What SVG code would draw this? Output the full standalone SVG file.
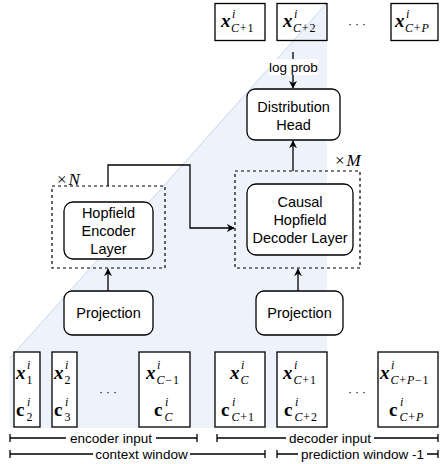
<svg xmlns="http://www.w3.org/2000/svg" width="440" height="464" viewBox="0 0 440 464">
<defs>
<marker id="ah" viewBox="0 0 10 10" refX="9" refY="5" markerWidth="8" markerHeight="8" markerUnits="userSpaceOnUse" orient="auto">
<path d="M0,0 L10,5 L0,10 L3,5 Z" fill="#000"/>
</marker>
</defs>
<style>
.bx{fill:#fff;stroke:#000;stroke-width:1.3}
.tb{fill:none;stroke:#000;stroke-width:1.3}
.dsh{fill:none;stroke:#000;stroke-width:1.2;stroke-dasharray:3 3}
.ln{fill:none;stroke:#000;stroke-width:1.3}
.t{font-family:"Liberation Sans",Arial,sans-serif;font-size:14.5px;fill:#000;text-anchor:middle}
.lb{font-family:"Liberation Sans",Arial,sans-serif;font-size:13.5px;fill:#000;text-anchor:middle}
.m{font-family:"Liberation Serif","Times New Roman",serif;font-size:19px;font-style:italic;font-weight:bold;fill:#000}
.mc{font-family:"Liberation Serif","Times New Roman",serif;font-size:19px;font-weight:bold;fill:#000}
.s{font-family:"Liberation Serif","Times New Roman",serif;font-size:12px;fill:#000;letter-spacing:0.8px}
.i{font-style:italic}
.mx{font-family:"Liberation Serif","Times New Roman",serif;font-size:17px;fill:#000}
.dots{font-family:"DejaVu Sans",sans-serif;font-size:11px;fill:#000;text-anchor:middle}
</style>
<polygon points="10,358 327,3 327,428 10,428" fill="#eef3fb"/>
<line x1="10" y1="358" x2="327" y2="3" stroke="#c6d6ee" stroke-width="1"/>

<g id="out1"><rect class="tb" x="215" y="3.5" width="50" height="37"/>
<text class="m" x="221" y="27">x</text><text class="s i" x="232" y="18">i</text><text class="s" x="231" y="32"><tspan class="i">C</tspan>+1</text></g>
<g id="out2"><rect class="tb" x="277" y="3.5" width="50" height="37"/>
<text class="m" x="283" y="27">x</text><text class="s i" x="294" y="18">i</text><text class="s" x="293" y="32"><tspan class="i">C</tspan>+2</text></g>
<text class="dots" x="357" y="28">· · ·</text>
<g id="outP"><rect class="tb" x="391" y="3.5" width="47" height="37"/>
<text class="m" x="395" y="27">x</text><text class="s i" x="406" y="18">i</text><text class="s" x="405" y="32"><tspan class="i">C</tspan>+<tspan class="i">P</tspan></text></g>

<g id="connectors">
<line class="ln" x1="293" y1="52" x2="293" y2="88" marker-end="url(#ah)"/>
<line class="ln" x1="293" y1="171" x2="293" y2="141" marker-end="url(#ah)"/>
<polyline class="ln" points="108,186 108,165 190,165 190,228 234,228" marker-end="url(#ah)"/>
<line class="ln" x1="108" y1="291" x2="108" y2="269" marker-end="url(#ah)"/>
<line class="ln" x1="298" y1="291" x2="298" y2="269" marker-end="url(#ah)"/>
</g>
<g id="logprob"><rect x="269" y="59" width="49" height="16" fill="#fff"/>
<text class="lb" x="293.5" y="72">log prob</text></g>

<g id="dist"><rect class="bx" x="247" y="89" width="93" height="51" rx="8"/>
<text class="t" x="293.5" y="112">Distribution</text><text class="t" x="293.5" y="130">Head</text></g>

<g id="decoder"><rect class="dsh" x="235" y="171" width="125" height="97"/>
<text class="mx" x="335" y="166">×<tspan class="i" dx="2">M</tspan></text>
<rect class="bx" x="247" y="184" width="106" height="71" rx="9"/>
<text class="t" x="300" y="207">Causal</text><text class="t" x="300" y="225">Hopfield</text><text class="t" x="300" y="243">Decoder Layer</text></g>

<g id="encoder"><rect class="dsh" x="52" y="186" width="113" height="82"/>
<text class="mx" x="57" y="185">×<tspan class="i" dx="2">N</tspan></text>
<rect class="bx" x="64" y="202" width="89" height="57" rx="9"/>
<text class="t" x="108.5" y="218">Hopfield</text><text class="t" x="108.5" y="236">Encoder</text><text class="t" x="108.5" y="254">Layer</text></g>

<g id="projE"><rect class="bx" x="64" y="291" width="89" height="44" rx="8"/>
<text class="t" x="108.5" y="318">Projection</text></g>
<g id="projD"><rect class="bx" x="256" y="291" width="87" height="44" rx="8"/>
<text class="t" x="299.5" y="318">Projection</text></g>

<g id="in1"><rect class="bx" x="14" y="352" width="26" height="75"/>
<text class="m" x="16" y="379">x</text><text class="s i" x="27" y="369">i</text><text class="s" x="26.5" y="384">1</text>
<text class="mc" x="16" y="416">c</text><text class="s i" x="27" y="406">i</text><text class="s" x="26.5" y="421">2</text></g>
<g id="in2"><rect class="bx" x="52" y="352" width="25" height="75"/>
<text class="m" x="54" y="379">x</text><text class="s i" x="65" y="369">i</text><text class="s" x="64.5" y="384">2</text>
<text class="mc" x="54" y="416">c</text><text class="s i" x="65" y="406">i</text><text class="s" x="64.5" y="421">3</text></g>
<text class="dots" x="108" y="396">· · ·</text>
<g id="inC1"><rect class="bx" x="139" y="352" width="51" height="75"/>
<text class="m" x="146" y="379">x</text><text class="s i" x="157" y="369">i</text><text class="s" x="156.5" y="384"><tspan class="i">C</tspan>−1</text>
<text class="mc" x="154" y="416">c</text><text class="s i" x="165" y="406">i</text><text class="s i" x="164.5" y="421">C</text></g>

<g id="dC"><rect class="bx" x="215" y="352" width="50" height="75"/>
<text class="m" x="230" y="379">x</text><text class="s i" x="241" y="369">i</text><text class="s i" x="240.5" y="384">C</text>
<text class="mc" x="221" y="416">c</text><text class="s i" x="232" y="406">i</text><text class="s" x="231.5" y="421"><tspan class="i">C</tspan>+1</text></g>
<g id="dC1"><rect class="bx" x="277" y="352" width="50" height="75"/>
<text class="m" x="283" y="379">x</text><text class="s i" x="294" y="369">i</text><text class="s" x="293.5" y="384"><tspan class="i">C</tspan>+1</text>
<text class="mc" x="284" y="416">c</text><text class="s i" x="295" y="406">i</text><text class="s" x="294.5" y="421"><tspan class="i">C</tspan>+2</text></g>
<text class="dots" x="357" y="396">· · ·</text>
<g id="dP"><rect class="bx" x="378" y="352" width="60" height="75"/>
<text class="m" x="380" y="379">x</text><text class="s i" x="391" y="369">i</text><text class="s" x="390.5" y="384"><tspan class="i">C</tspan>+<tspan class="i">P</tspan>−1</text>
<text class="mc" x="389" y="416">c</text><text class="s i" x="400" y="406">i</text><text class="s" x="399.5" y="421"><tspan class="i">C</tspan>+<tspan class="i">P</tspan></text></g>

<g id="brackets">
<path class="ln" d="M10,434 V442 M10,438 H66 M156,438 H197 M197,434 V442"/>
<text class="lb" x="111" y="442.5">encoder input</text>
<path class="ln" d="M10,450 V458 M10,454 H93 M190,454 H265 M265,450 V458"/>
<text class="lb" x="141.5" y="458.5">context window</text>
<path class="ln" d="M217,434 V442 M217,438 H286 M374,438 H438 M438,434 V442"/>
<text class="lb" x="330" y="442.5">decoder input</text>
<path class="ln" d="M277,450 V458 M277,454 H298 M427,454 H438 M438,450 V458"/>
<text class="lb" x="362.5" y="458.5">prediction window -1</text>
</g>
</svg>
